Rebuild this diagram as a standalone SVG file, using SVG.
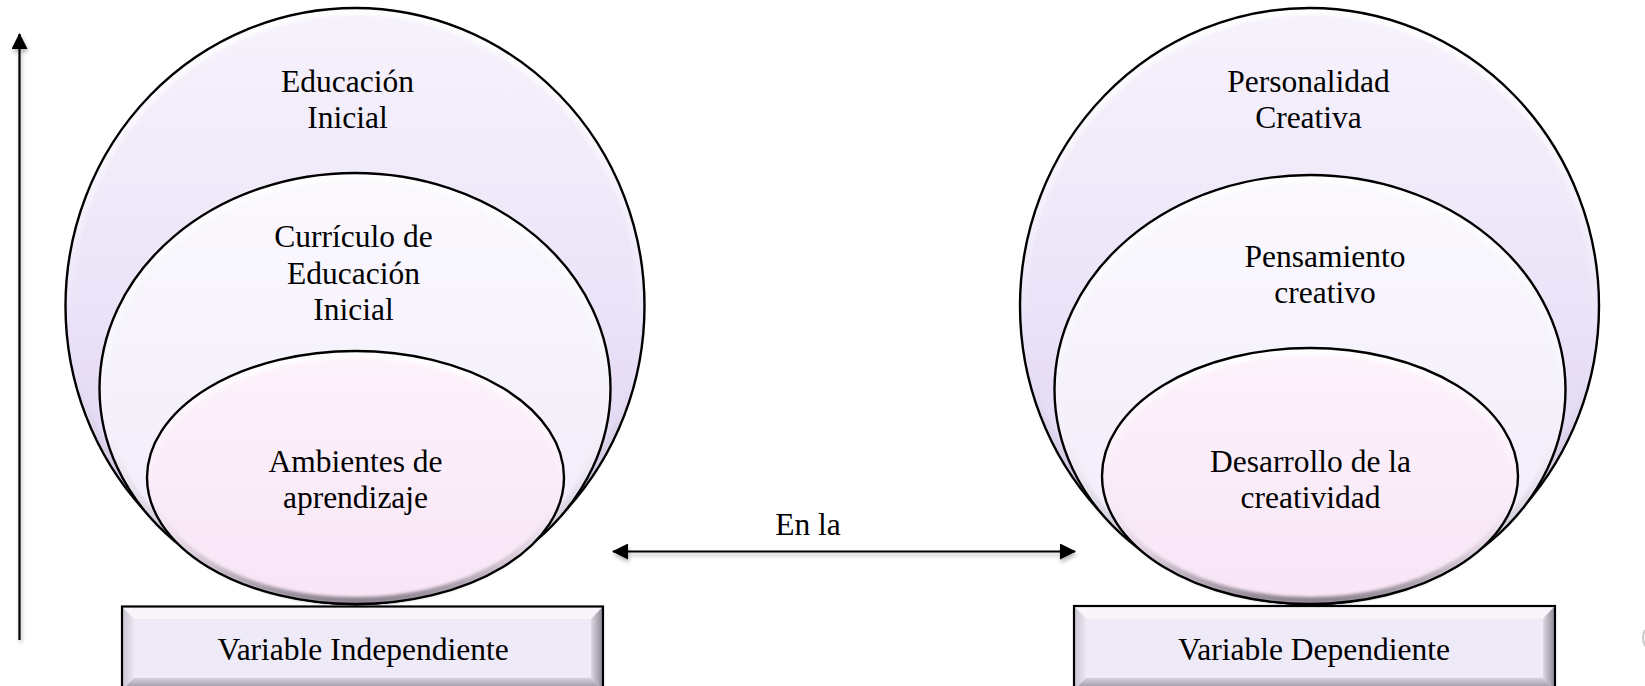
<svg xmlns="http://www.w3.org/2000/svg" width="1645" height="686" viewBox="0 0 1645 686">
<style>
  text { font-family: "Liberation Serif", "Times New Roman", serif; font-size: 31.5px; fill: #000; text-anchor: middle; }
  .edge { fill: none; stroke: #000; stroke-width: 2.4; }
  .bev { fill: none; stroke: url(#gBev); stroke-width: 7; filter: url(#soft); }
  .line { stroke: #000; stroke-width: 2.2; fill: none; }
</style>
<defs>
  <linearGradient id="gOuter" x1="0" y1="0" x2="0" y2="1">
    <stop offset="0" stop-color="#f7f3fc"/>
    <stop offset="0.5" stop-color="#ebe3f8"/>
    <stop offset="1" stop-color="#dccff1"/>
  </linearGradient>
  <linearGradient id="gMid" x1="0" y1="0" x2="0" y2="1">
    <stop offset="0" stop-color="#fbf9fe"/>
    <stop offset="1" stop-color="#f0eaf9"/>
  </linearGradient>
  <linearGradient id="gInner" x1="0" y1="0" x2="0" y2="1">
    <stop offset="0" stop-color="#fdf3fc"/>
    <stop offset="1" stop-color="#f8e5f6"/>
  </linearGradient>
  <linearGradient id="gBev" x1="0" y1="0" x2="0" y2="1">
    <stop offset="0" stop-color="#ffffff" stop-opacity="0.9"/>
    <stop offset="0.55" stop-color="#ffffff" stop-opacity="0"/>
    <stop offset="0.8" stop-color="#8a8490" stop-opacity="0.25"/>
    <stop offset="1" stop-color="#55505a" stop-opacity="0.65"/>
  </linearGradient>
  <linearGradient id="gBoxR" x1="0" y1="0" x2="1" y2="0">
    <stop offset="0" stop-color="#ddd8e4"/>
    <stop offset="1" stop-color="#8b8691"/>
  </linearGradient>
  <linearGradient id="gBoxL" x1="0" y1="0" x2="1" y2="0">
    <stop offset="0" stop-color="#c9c4d0"/>
    <stop offset="1" stop-color="#ebe6f2"/>
  </linearGradient>
  <linearGradient id="gBoxB" x1="0" y1="0" x2="0" y2="1">
    <stop offset="0" stop-color="#d6d1dc"/>
    <stop offset="1" stop-color="#8d8893"/>
  </linearGradient>
  <filter id="soft" x="-5%" y="-5%" width="110%" height="110%">
    <feGaussianBlur stdDeviation="1.6"/>
  </filter>
  <filter id="shadow" x="-10%" y="-50%" width="120%" height="300%">
    <feGaussianBlur in="SourceAlpha" stdDeviation="2"/>
    <feOffset dx="1" dy="3" result="b"/>
    <feComponentTransfer><feFuncA type="linear" slope="0.3"/></feComponentTransfer>
    <feMerge><feMergeNode/><feMergeNode in="SourceGraphic"/></feMerge>
  </filter>
  <marker id="ah" viewBox="0 0 16 16" refX="15" refY="8" markerWidth="16" markerHeight="16" markerUnits="userSpaceOnUse" orient="auto-start-reverse">
    <path d="M0,0 L16,8 L0,16 Z" fill="#000"/>
  </marker>
</defs>

<g id="connectors" filter="url(#shadow)">
  <line class="line" x1="19.5" y1="640" x2="19.5" y2="34" marker-end="url(#ah)"/>
  <line class="line" x1="613" y1="551.5" x2="1075" y2="551.5" marker-start="url(#ah)" marker-end="url(#ah)"/>
</g>

<g id="left-outer">
  <ellipse cx="355" cy="306" rx="289.5" ry="298" fill="url(#gOuter)"/>
  <ellipse class="bev" cx="355" cy="306" rx="286" ry="294.5"/>
  <ellipse class="edge" cx="355" cy="306" rx="289.5" ry="298"/>
  <text x="347.5" y="92">Educación</text>
  <text x="347.5" y="128">Inicial</text>
</g>
<g id="left-middle">
  <ellipse cx="355" cy="388.5" rx="255.5" ry="215.5" fill="url(#gMid)"/>
  <ellipse class="bev" cx="355" cy="388.5" rx="252" ry="212"/>
  <ellipse class="edge" cx="355" cy="388.5" rx="255.5" ry="215.5"/>
  <text x="353.5" y="247">Currículo de</text>
  <text x="353.5" y="284">Educación</text>
  <text x="353.5" y="320">Inicial</text>
</g>
<g id="left-inner">
  <ellipse cx="355.5" cy="477.5" rx="208.5" ry="126.5" fill="url(#gInner)"/>
  <ellipse class="bev" cx="355.5" cy="477.5" rx="205" ry="123"/>
  <ellipse class="edge" cx="355.5" cy="477.5" rx="208.5" ry="126.5"/>
  <text x="355.5" y="472">Ambientes de</text>
  <text x="355.5" y="508">aprendizaje</text>
</g>

<g id="right-outer">
  <ellipse cx="1309.5" cy="306" rx="289.5" ry="298" fill="url(#gOuter)"/>
  <ellipse class="bev" cx="1309.5" cy="306" rx="286" ry="294.5"/>
  <ellipse class="edge" cx="1309.5" cy="306" rx="289.5" ry="298"/>
  <text x="1308.5" y="92">Personalidad</text>
  <text x="1308.5" y="128">Creativa</text>
</g>
<g id="right-middle">
  <ellipse cx="1310" cy="389.5" rx="255.5" ry="214.5" fill="url(#gMid)"/>
  <ellipse class="bev" cx="1310" cy="389.5" rx="252" ry="211"/>
  <ellipse class="edge" cx="1310" cy="389.5" rx="255.5" ry="214.5"/>
  <text x="1325" y="267">Pensamiento</text>
  <text x="1325" y="303">creativo</text>
</g>
<g id="right-inner">
  <ellipse cx="1310" cy="476" rx="208" ry="128" fill="url(#gInner)"/>
  <ellipse class="bev" cx="1310" cy="476" rx="204.5" ry="124.5"/>
  <ellipse class="edge" cx="1310" cy="476" rx="208" ry="128"/>
  <text x="1310.5" y="472">Desarrollo de la</text>
  <text x="1310.5" y="508">creatividad</text>
</g>

<g id="box-independiente">
  <rect x="122" y="606.5" width="481" height="84" fill="#efeaf8"/>
  <polygon points="122,606.5 603,606.5 591,619 134,619" fill="#f8f6fb"/>
  <polygon points="122,606.5 134,619 134,678 122,690" fill="url(#gBoxL)"/>
  <polygon points="603,606.5 591,619 591,678 603,690" fill="url(#gBoxR)"/>
  <polygon points="122,690 134,678 591,678 603,690" fill="url(#gBoxB)"/>
  <rect x="122" y="606.5" width="481" height="84" fill="none" stroke="#000" stroke-width="2.2"/>
  <text x="363" y="660">Variable Independiente</text>
</g>
<g id="box-dependiente">
  <rect x="1074" y="606" width="481" height="84" fill="#efeaf8"/>
  <polygon points="1074,606 1555,606 1543,618.5 1086,618.5" fill="#f8f6fb"/>
  <polygon points="1074,606 1086,618.5 1086,678 1074,690" fill="url(#gBoxL)"/>
  <polygon points="1555,606 1543,618.5 1543,678 1555,690" fill="url(#gBoxR)"/>
  <polygon points="1074,690 1086,678 1543,678 1555,690" fill="url(#gBoxB)"/>
  <rect x="1074" y="606" width="481" height="84" fill="none" stroke="#000" stroke-width="2.2"/>
  <text x="1314" y="660">Variable Dependiente</text>
</g>

<g id="label-en-la">
  <text x="808" y="535">En la</text>
</g>

<path d="M1645,630 Q1641,637 1645,646" fill="none" stroke="#c8c8c8" stroke-width="2"/>
</svg>
